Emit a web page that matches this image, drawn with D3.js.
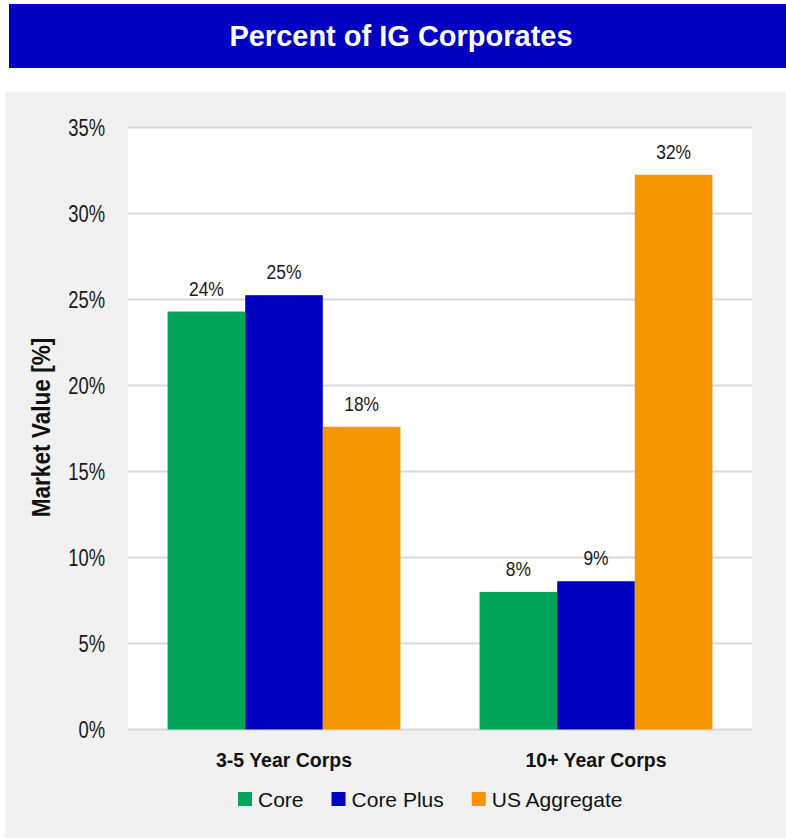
<!DOCTYPE html>
<html>
<head>
<meta charset="utf-8">
<script src="https://cdn.jsdelivr.net/npm/d3@7"></script>
<style>
  html, body { margin: 0; padding: 0; background: #ffffff; }
  svg { display: block; font-family: "Liberation Sans", Arial, sans-serif; }
</style>
</head>
<body>
<svg id="chart" width="786" height="839"></svg>
<script>
const title = "Percent of IG Corporates";
const categories = ["3-5 Year Corps", "10+ Year Corps"];
const seriesNames = ["Core", "Core Plus", "US Aggregate"];
const seriesColors = ["#00a55a", "#0000c0", "#f39600"];
const coreValues = [24.3, 8.0];
const corePlusValues = [25.25, 8.62];
const usAggValues = [17.6, 32.25];
const dataLabels = [["24%", "8%"], ["25%", "9%"], ["18%", "32%"]];
const yTicks = [0, 5, 10, 15, 20, 25, 30, 35];
const yLabel = "Market Value [%]";

const series = [coreValues, corePlusValues, usAggValues];

const svg = d3.select("#chart");

// title bar
svg.append("rect").attr("x", 9).attr("y", 4).attr("width", 777).attr("height", 64).attr("fill", "#0000c0");
svg.append("text").attr("x", 401).attr("y", 46).attr("text-anchor", "middle")
  .attr("fill", "#ffffff").attr("font-weight", "bold").attr("font-size", 29).text(title);

// panel
svg.append("rect").attr("x", 5).attr("y", 92).attr("width", 781).attr("height", 746).attr("fill", "#f1f1f1");

const plot = { left: 128, right: 752, top: 127.5, bottom: 729.5 };
svg.append("rect").attr("x", plot.left).attr("y", plot.top)
  .attr("width", plot.right - plot.left).attr("height", plot.bottom - plot.top).attr("fill", "#ffffff");

const y = d3.scaleLinear().domain([0, 35]).range([plot.bottom, plot.top]);
const x0 = d3.scaleBand().domain(categories).range([plot.left, plot.right]).paddingInner(0).paddingOuter(0);
const x1 = d3.scaleBand().domain(d3.range(seriesNames.length)).range([0, x0.bandwidth()]).paddingInner(0).paddingOuter(0.51);

// gridlines
svg.append("g").selectAll("line").data(yTicks).join("line")
  .attr("x1", plot.left).attr("x2", plot.right)
  .attr("y1", d => y(d)).attr("y2", d => y(d))
  .attr("stroke", "#d9d9d9").attr("stroke-width", 2);

// tick labels (condensed)
svg.append("g").selectAll("g").data(yTicks).join("g")
  .attr("transform", d => `translate(105,${y(d) + 8.5})`)
  .append("text").attr("transform", "scale(0.8,1)")
  .attr("text-anchor", "end").attr("font-size", 23).attr("fill", "#1a1a1a")
  .text(d => d + "%");

// bars
const groups = svg.append("g").selectAll("g").data(categories).join("g")
  .attr("transform", c => `translate(${x0(c)},0)`);

groups.each(function(c, ci) {
  const g = d3.select(this);
  series.forEach((vals, si) => {
    g.append("rect")
      .attr("x", x1(si)).attr("width", x1.bandwidth())
      .attr("y", y(vals[ci])).attr("height", y(0) - y(vals[ci]))
      .attr("fill", seriesColors[si]);
    g.append("g")
      .attr("transform", `translate(${x1(si) + x1.bandwidth() / 2},${y(vals[ci]) - 16})`)
      .append("text").attr("transform", "scale(0.87,1)")
      .attr("text-anchor", "middle").attr("font-size", 20).attr("fill", "#1a1a1a")
      .text(dataLabels[si][ci]);
  });
});

// category labels
svg.append("g").selectAll("text").data(categories).join("text")
  .attr("x", c => x0(c) + x0.bandwidth() / 2).attr("y", 767)
  .attr("text-anchor", "middle").attr("font-weight", "bold").attr("font-size", 19.5).attr("fill", "#111")
  .text(c => c);

// y axis title
svg.append("g").attr("transform", "translate(50,427.5) rotate(-90)")
  .append("text").attr("transform", "scale(0.87,1)")
  .attr("text-anchor", "middle").attr("font-weight", "bold").attr("font-size", 26).attr("fill", "#111")
  .text(yLabel);

// legend
const legend = svg.append("g");
let lx = 238;
seriesNames.forEach((name, i) => {
  legend.append("rect").attr("x", lx).attr("y", 792).attr("width", 14).attr("height", 14).attr("fill", seriesColors[i]);
  const t = legend.append("text").attr("x", lx + 20).attr("y", 807)
    .attr("font-size", 21).attr("fill", "#111").text(name);
  const w = t.node().getComputedTextLength();
  lx = lx + 20 + w + 28;
});
</script>
</body>
</html>
